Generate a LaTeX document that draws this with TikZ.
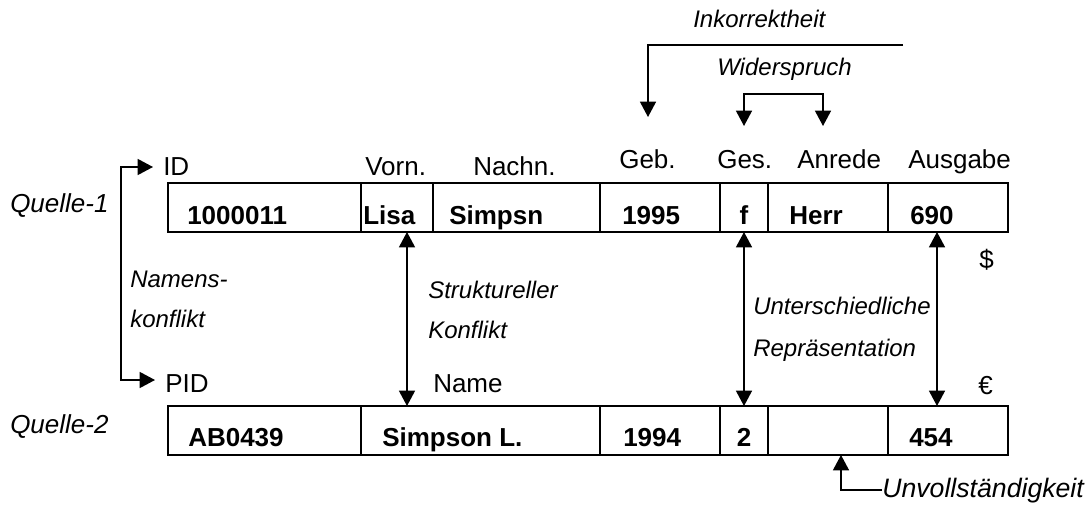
\documentclass[tikz,border=0pt]{standalone}
\usepackage{fontspec}
\setmainfont{Liberation Sans}
\usetikzlibrary{arrows.meta}
\begin{document}
\begin{tikzpicture}[x=0.75pt,y=-0.75pt,
  txt/.style={inner sep=0pt, anchor=base west, font=\fontsize{19.5}{23}\selectfont},
  lbl/.style={txt, font=\fontsize{18}{22}\selectfont\itshape},
  src/.style={txt, font=\fontsize{19.5}{23}\selectfont\itshape},
  val/.style={txt, font=\fontsize{19.5}{23}\selectfont\bfseries},
  cval/.style={val, anchor=base},
  cell/.style={draw, line width=1.5pt, inner sep=0pt, outer sep=0pt,
    anchor=north west, minimum height=36.75pt, minimum width=#1*0.75pt},
  tip/.style={line width=1.1pt, arrows={-Triangle[length=11.5pt,width=12pt]}},
  bitip/.style={line width=1.1pt, arrows={Triangle[length=11.5pt,width=12pt]-Triangle[length=11.5pt,width=12pt]}}]
\useasboundingbox (0,0) rectangle (1089,517);

% ---- record of the first source ----
\node[cell=193] (c11) at (168,183) {};
\node[cell=72]  (c12) at (361,183) {};
\node[cell=167] (c13) at (433,183) {};
\node[cell=120] (c14) at (600,183) {};
\node[cell=48]  (c15) at (720,183) {};
\node[cell=120] (c16) at (768,183) {};
\node[cell=120] (c17) at (888,183) {};

\node[val] (v11) at (187,224) {1000011};
\node[val] (v12) at (363,224) {Lisa};
\node[val] (v13) at (449,224) {Simpsn};
\node[val] (v14) at (622,224) {1995};
\node[cval] (v15) at (744,224) {f};
\node[val] (v16) at (789,224) {Herr};
\node[val] (v17) at (910,224) {690};

% ---- record of the second source ----
\node[cell=193] (c21) at (168,406) {};
\node[cell=239] (c22) at (361,406) {};
\node[cell=120] (c23) at (600,406) {};
\node[cell=48]  (c24) at (720,406) {};
\node[cell=120] (c25) at (768,406) {};
\node[cell=120] (c26) at (888,406) {};

\node[val] (v21) at (188,446) {AB0439};
\node[val] (v22) at (382,446) {Simpson L.};
\node[val] (v23) at (623,446) {1994};
\node[cval] (v24) at (744,446) {2};
\node[val] (v26) at (909,446) {454};

% ---- attribute names ----
\node[txt] (hID)  at (163,175) {ID};
\node[txt] (hVor) at (365,175) {Vorn.};
\node[txt] (hNac) at (473,175) {Nachn.};
\node[txt] (hGeb) at (619,168) {Geb.};
\node[txt] (hGes) at (717,168) {Ges.};
\node[txt] (hAnr) at (797,168) {Anrede};
\node[txt] (hAus) at (908,168) {Ausgabe};
\node[txt] (hPID) at (165,392) {PID};
\node[txt] (hNam) at (433,392) {Name};
\node[txt] (usd)  at (979,268) {\$};
\node[txt] (eur)  at (978,394) {€};

% ---- sources ----
\node[src] (q1) at (10,212) {Quelle-1};
\node[src] (q2) at (10,433) {Quelle-2};

% ---- conflict labels ----
\node[lbl] (lNam1) at (130,287) {Namens-};
\node[lbl] (lNam2) at (130,327) {konflikt};
\node[lbl] (lStr1) at (428,298) {Struktureller};
\node[lbl] (lStr2) at (428,338) {Konflikt};
\node[lbl] (lRep1) at (753,314) {Unterschiedliche};
\node[lbl] (lRep2) at (753,356) {Repräsentation};
\node[lbl] (lInk)  at (693,28)  {Inkorrektheit};
\node[lbl] (lWid)  at (717,75)  {Widerspruch};
\node[lbl, font=\fontsize{20}{24}\selectfont\itshape] (lUnv) at (882,497) {Unvollständigkeit};

% ---- connector end points ----
\coordinate (nkTop) at (153,167);
\coordinate (nkBot) at (155,380);
\coordinate (nkBar) at (121,167);
\coordinate (axStr) at (407,0);
\coordinate (axGes) at (744,0);
\coordinate (axAus) at (937,0);
\coordinate (inkR)  at (903,45);
\coordinate (inkL)  at (648,45);
\coordinate (inkTip) at (648,117);
\coordinate (widL)  at (744,94);
\coordinate (widR)  at (823,94);
\coordinate (widLt) at (744,126);
\coordinate (widRt) at (823,126);
\coordinate (unvL)  at (841,490);

% name conflict: ID <-> PID
\draw[bitip] (nkTop) -- (nkBar) |- (nkBot);

% structural conflict and differing representation
\draw[bitip] (c12.south -| axStr) -- (c22.north -| axStr);
\draw[bitip] (c15.south -| axGes) -- (c24.north -| axGes);
\draw[bitip] (c17.south -| axAus) -- (c26.north -| axAus);

% incorrectness
\draw[tip] (inkR) -- (inkL) -- (inkTip);

% contradiction between gender and salutation
\draw[bitip] (widLt) -- (widL) -- (widR) -- (widRt);

% incompleteness
\draw[tip] (unvL -| lUnv.west) -- (unvL) -- (c25.south -| unvL);
\end{tikzpicture}
\end{document}
